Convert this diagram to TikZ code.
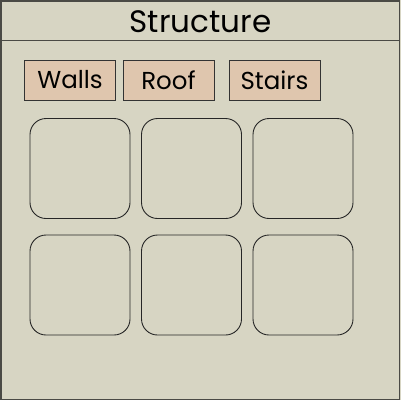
\documentclass[tikz,border=0pt]{standalone}
\usepackage{fontspec}
\setmainfont{Poppins}
\usetikzlibrary{positioning}

\definecolor{panelbg}{HTML}{D7D5C3}
\definecolor{tabfill}{HTML}{DFC6AE}
\definecolor{rimgray}{HTML}{4A4A45}

\begin{document}
\begin{tikzpicture}[x=1pt,y=-1pt,on grid,
    tab/.style={draw=black!80,fill=tabfill,line width=0.9pt,minimum width=91pt,minimum height=40pt,inner sep=0pt,font=\fontsize{24.5}{26}\selectfont},
    slot/.style={draw=black!85,line width=0.9pt,rounded corners=16pt,minimum width=100pt,minimum height=100pt,inner sep=0pt}]
      \useasboundingbox (0,0) rectangle (401,400);
      \fill[panelbg] (0,0) rectangle (401,400);
      \draw[rimgray,line width=1.5pt] (0.75,0.75) rectangle (399.5,399.25);
      \draw[rimgray,line width=1pt] (0.75,40) -- (399.5,40);

      \node (title) at (200.5,21.5) {\fontsize{31}{34}\selectfont Structure};

      \node[tab] (walls) at (70,80) {Walls};
      \node[tab] (roof) [right=98.5pt of walls] {Roof};
      \node[tab] (stairs) [right=106pt of roof] {Stairs};

      \node[slot] (s_1) at (80,168.5) {};
      \node[slot] (s_2) [right=111.5pt of s_1] {};
      \node[slot] (s_3) [right=111.5pt of s_2] {};
      \node[slot] (s_4) [below=116.5pt of s_1] {};
      \node[slot] (s_5) [right=111.5pt of s_4] {};
      \node[slot] (s_6) [right=111.5pt of s_5] {};
    \end{tikzpicture}
\end{document}
